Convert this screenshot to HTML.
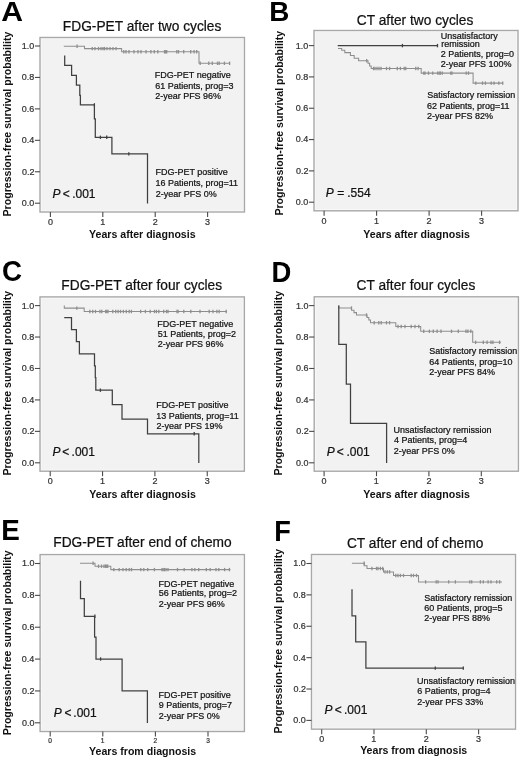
<!DOCTYPE html>
<html><head><meta charset="utf-8"><style>
html,body{margin:0;padding:0;background:#fff;}
svg{display:block;will-change:transform;}
text{font-family:"Liberation Sans",sans-serif;}
</style></head><body>
<svg width="520" height="759" viewBox="0 0 520 759">
<rect width="520" height="759" fill="#fff"/>
<rect x="40.00" y="37.50" width="204.45" height="174.50" fill="#fbfbfb" stroke="#a8a8a8" stroke-width="1.4"/>
<rect x="41.50" y="39.00" width="201.45" height="171.50" fill="#f2f2f2"/>
<line x1="34.90" y1="203.20" x2="40.00" y2="203.20" stroke="#4a4a4a" stroke-width="1.1"/>
<text transform="translate(21.83,206.10) scale(1,1.05)" font-size="9.0" stroke="#333" stroke-width="0.22" fill="#333">0.0</text>
<line x1="34.90" y1="171.76" x2="40.00" y2="171.76" stroke="#4a4a4a" stroke-width="1.1"/>
<text transform="translate(21.94,174.66) scale(1,1.05)" font-size="9.0" stroke="#333" stroke-width="0.22" fill="#333">0.2</text>
<line x1="34.90" y1="140.32" x2="40.00" y2="140.32" stroke="#4a4a4a" stroke-width="1.1"/>
<text transform="translate(21.74,143.22) scale(1,1.05)" font-size="9.0" stroke="#333" stroke-width="0.22" fill="#333">0.4</text>
<line x1="34.90" y1="108.88" x2="40.00" y2="108.88" stroke="#4a4a4a" stroke-width="1.1"/>
<text transform="translate(21.87,111.78) scale(1,1.05)" font-size="9.0" stroke="#333" stroke-width="0.22" fill="#333">0.6</text>
<line x1="34.90" y1="77.44" x2="40.00" y2="77.44" stroke="#4a4a4a" stroke-width="1.1"/>
<text transform="translate(21.87,80.34) scale(1,1.05)" font-size="9.0" stroke="#333" stroke-width="0.22" fill="#333">0.8</text>
<line x1="34.90" y1="46.00" x2="40.00" y2="46.00" stroke="#4a4a4a" stroke-width="1.1"/>
<text transform="translate(21.83,48.90) scale(1,1.05)" font-size="9.0" stroke="#333" stroke-width="0.22" fill="#333">1.0</text>
<line x1="50.40" y1="212.00" x2="50.40" y2="217.00" stroke="#4a4a4a" stroke-width="1.1"/>
<text transform="translate(47.90,225.20) scale(1,1.05)" font-size="9.0" stroke="#333" stroke-width="0.22" fill="#333">0</text>
<line x1="102.80" y1="212.00" x2="102.80" y2="217.00" stroke="#4a4a4a" stroke-width="1.1"/>
<text transform="translate(100.17,225.20) scale(1,1.05)" font-size="9.0" stroke="#333" stroke-width="0.22" fill="#333">1</text>
<line x1="155.20" y1="212.00" x2="155.20" y2="217.00" stroke="#4a4a4a" stroke-width="1.1"/>
<text transform="translate(152.70,225.20) scale(1,1.05)" font-size="9.0" stroke="#333" stroke-width="0.22" fill="#333">2</text>
<line x1="207.60" y1="212.00" x2="207.60" y2="217.00" stroke="#4a4a4a" stroke-width="1.1"/>
<text transform="translate(205.12,225.20) scale(1,1.05)" font-size="9.0" stroke="#333" stroke-width="0.22" fill="#333">3</text>
<path d="M63.8,46.2 H84.5 V48.6 H121.6 V51.8 H199 V63.3 H229.6" fill="none" stroke="#8e8e8e" stroke-width="1.05" stroke-linejoin="miter" stroke-linecap="butt"/>
<line x1="77.10" y1="44.50" x2="77.10" y2="47.90" stroke="#8e8e8e" stroke-width="1.3"/>
<line x1="92.30" y1="46.90" x2="92.30" y2="50.30" stroke="#8e8e8e" stroke-width="1.3"/>
<line x1="95.00" y1="46.90" x2="95.00" y2="50.30" stroke="#8e8e8e" stroke-width="1.3"/>
<line x1="98.50" y1="46.90" x2="98.50" y2="50.30" stroke="#8e8e8e" stroke-width="1.3"/>
<line x1="101.00" y1="46.90" x2="101.00" y2="50.30" stroke="#8e8e8e" stroke-width="1.3"/>
<line x1="103.00" y1="46.90" x2="103.00" y2="50.30" stroke="#8e8e8e" stroke-width="1.3"/>
<line x1="104.50" y1="46.90" x2="104.50" y2="50.30" stroke="#8e8e8e" stroke-width="1.3"/>
<line x1="107.00" y1="46.90" x2="107.00" y2="50.30" stroke="#8e8e8e" stroke-width="1.3"/>
<line x1="110.00" y1="46.90" x2="110.00" y2="50.30" stroke="#8e8e8e" stroke-width="1.3"/>
<line x1="113.00" y1="46.90" x2="113.00" y2="50.30" stroke="#8e8e8e" stroke-width="1.3"/>
<line x1="116.00" y1="46.90" x2="116.00" y2="50.30" stroke="#8e8e8e" stroke-width="1.3"/>
<line x1="123.80" y1="50.10" x2="123.80" y2="53.50" stroke="#8e8e8e" stroke-width="1.3"/>
<line x1="126.00" y1="50.10" x2="126.00" y2="53.50" stroke="#8e8e8e" stroke-width="1.3"/>
<line x1="129.00" y1="50.10" x2="129.00" y2="53.50" stroke="#8e8e8e" stroke-width="1.3"/>
<line x1="134.00" y1="50.10" x2="134.00" y2="53.50" stroke="#8e8e8e" stroke-width="1.3"/>
<line x1="138.00" y1="50.10" x2="138.00" y2="53.50" stroke="#8e8e8e" stroke-width="1.3"/>
<line x1="141.00" y1="50.10" x2="141.00" y2="53.50" stroke="#8e8e8e" stroke-width="1.3"/>
<line x1="146.00" y1="50.10" x2="146.00" y2="53.50" stroke="#8e8e8e" stroke-width="1.3"/>
<line x1="150.90" y1="50.10" x2="150.90" y2="53.50" stroke="#8e8e8e" stroke-width="1.3"/>
<line x1="154.30" y1="50.10" x2="154.30" y2="53.50" stroke="#8e8e8e" stroke-width="1.3"/>
<line x1="157.80" y1="50.10" x2="157.80" y2="53.50" stroke="#8e8e8e" stroke-width="1.3"/>
<line x1="164.50" y1="50.10" x2="164.50" y2="53.50" stroke="#8e8e8e" stroke-width="1.3"/>
<line x1="165.60" y1="50.10" x2="165.60" y2="53.50" stroke="#8e8e8e" stroke-width="1.3"/>
<line x1="166.70" y1="50.10" x2="166.70" y2="53.50" stroke="#8e8e8e" stroke-width="1.3"/>
<line x1="176.80" y1="50.10" x2="176.80" y2="53.50" stroke="#8e8e8e" stroke-width="1.3"/>
<line x1="178.50" y1="50.10" x2="178.50" y2="53.50" stroke="#8e8e8e" stroke-width="1.3"/>
<line x1="183.70" y1="50.10" x2="183.70" y2="53.50" stroke="#8e8e8e" stroke-width="1.3"/>
<line x1="190.70" y1="50.10" x2="190.70" y2="53.50" stroke="#8e8e8e" stroke-width="1.3"/>
<line x1="194.10" y1="50.10" x2="194.10" y2="53.50" stroke="#8e8e8e" stroke-width="1.3"/>
<line x1="196.70" y1="50.10" x2="196.70" y2="53.50" stroke="#8e8e8e" stroke-width="1.3"/>
<line x1="200.20" y1="61.60" x2="200.20" y2="65.00" stroke="#8e8e8e" stroke-width="1.3"/>
<line x1="208.80" y1="61.60" x2="208.80" y2="65.00" stroke="#8e8e8e" stroke-width="1.3"/>
<line x1="212.30" y1="61.60" x2="212.30" y2="65.00" stroke="#8e8e8e" stroke-width="1.3"/>
<line x1="217.50" y1="61.60" x2="217.50" y2="65.00" stroke="#8e8e8e" stroke-width="1.3"/>
<line x1="219.20" y1="61.60" x2="219.20" y2="65.00" stroke="#8e8e8e" stroke-width="1.3"/>
<line x1="224.40" y1="61.60" x2="224.40" y2="65.00" stroke="#8e8e8e" stroke-width="1.3"/>
<line x1="229.60" y1="61.60" x2="229.60" y2="65.00" stroke="#8e8e8e" stroke-width="1.3"/>
<path d="M64.7,55.5 V65.4 H71.6 V75.3 H76.4 V85.2 H79.8 V95.3 H80.4 V104.9 H94.4 V118.8 H95.3 V137.3 H111.9 V153.9 H147.5 V203.4" fill="none" stroke="#404040" stroke-width="1.25" stroke-linejoin="miter" stroke-linecap="butt"/>
<line x1="94.40" y1="103.20" x2="94.40" y2="106.60" stroke="#404040" stroke-width="1.3"/>
<line x1="100.40" y1="135.60" x2="100.40" y2="139.00" stroke="#404040" stroke-width="1.3"/>
<line x1="106.70" y1="135.60" x2="106.70" y2="139.00" stroke="#404040" stroke-width="1.3"/>
<line x1="128.80" y1="152.20" x2="128.80" y2="155.60" stroke="#404040" stroke-width="1.3"/>
<text transform="translate(154.86,78.20) scale(1,1.05)" font-size="9.0" stroke="#111" stroke-width="0.22" fill="#111">FDG-PET negative</text>
<text transform="translate(155.15,88.70) scale(1,1.05)" font-size="9.0" stroke="#111" stroke-width="0.22" fill="#111">61 Patients, prog=3</text>
<text transform="translate(155.15,99.20) scale(1,1.05)" font-size="9.0" stroke="#111" stroke-width="0.22" fill="#111">2-year PFS 96%</text>
<text transform="translate(155.46,175.40) scale(1,1.05)" font-size="9.0" stroke="#111" stroke-width="0.22" fill="#111">FDG-PET positive</text>
<text transform="translate(155.52,186.00) scale(1,1.05)" font-size="9.0" stroke="#111" stroke-width="0.22" fill="#111">16 Patients, prog=11</text>
<text transform="translate(155.75,196.50) scale(1,1.05)" font-size="9.0" stroke="#111" stroke-width="0.22" fill="#111">2-year PFS 0%</text>
<text transform="translate(62.87,30.70) scale(1,1.05)" font-size="13.75" stroke="#111" stroke-width="0.22" fill="#111">FDG-PET after two cycles</text>
<text transform="translate(52.44,197.90) scale(1,1.05)" font-size="12" stroke="#111" stroke-width="0.22" font-style="italic" fill="#111">P</text>
<text transform="translate(62.87,197.90) scale(1,1.05)" font-size="12" stroke="#111" stroke-width="0.22" fill="#111">&lt;</text>
<text transform="translate(72.18,197.90) scale(1,1.05)" font-size="12" stroke="#111" stroke-width="0.22" fill="#111">.001</text>
<text transform="translate(89.03,238.20) scale(1,1.05)" font-size="10.6" font-weight="bold" fill="#111">Years after diagnosis</text>
<text transform="translate(10.70,216.50) rotate(-90) scale(1,1.05)" x="0" y="0" font-size="10.6" font-weight="bold" fill="#111">Progression-free survival probability</text>
<text transform="translate(1.28,21.20) scale(1.08,1.0)" font-size="27.9" font-weight="bold" fill="#000">A</text>
<rect x="314.00" y="30.50" width="204.00" height="180.30" fill="#fbfbfb" stroke="#a8a8a8" stroke-width="1.4"/>
<rect x="315.50" y="32.00" width="201.00" height="177.30" fill="#f2f2f2"/>
<line x1="308.90" y1="202.20" x2="314.00" y2="202.20" stroke="#4a4a4a" stroke-width="1.1"/>
<text transform="translate(295.83,205.10) scale(1,1.05)" font-size="9.0" stroke="#333" stroke-width="0.22" fill="#333">0.0</text>
<line x1="308.90" y1="170.88" x2="314.00" y2="170.88" stroke="#4a4a4a" stroke-width="1.1"/>
<text transform="translate(295.94,173.78) scale(1,1.05)" font-size="9.0" stroke="#333" stroke-width="0.22" fill="#333">0.2</text>
<line x1="308.90" y1="139.56" x2="314.00" y2="139.56" stroke="#4a4a4a" stroke-width="1.1"/>
<text transform="translate(295.74,142.46) scale(1,1.05)" font-size="9.0" stroke="#333" stroke-width="0.22" fill="#333">0.4</text>
<line x1="308.90" y1="108.24" x2="314.00" y2="108.24" stroke="#4a4a4a" stroke-width="1.1"/>
<text transform="translate(295.87,111.14) scale(1,1.05)" font-size="9.0" stroke="#333" stroke-width="0.22" fill="#333">0.6</text>
<line x1="308.90" y1="76.92" x2="314.00" y2="76.92" stroke="#4a4a4a" stroke-width="1.1"/>
<text transform="translate(295.87,79.82) scale(1,1.05)" font-size="9.0" stroke="#333" stroke-width="0.22" fill="#333">0.8</text>
<line x1="308.90" y1="45.60" x2="314.00" y2="45.60" stroke="#4a4a4a" stroke-width="1.1"/>
<text transform="translate(295.83,48.50) scale(1,1.05)" font-size="9.0" stroke="#333" stroke-width="0.22" fill="#333">1.0</text>
<line x1="324.10" y1="210.80" x2="324.10" y2="215.80" stroke="#4a4a4a" stroke-width="1.1"/>
<text transform="translate(321.60,224.00) scale(1,1.05)" font-size="9.0" stroke="#333" stroke-width="0.22" fill="#333">0</text>
<line x1="376.60" y1="210.80" x2="376.60" y2="215.80" stroke="#4a4a4a" stroke-width="1.1"/>
<text transform="translate(373.97,224.00) scale(1,1.05)" font-size="9.0" stroke="#333" stroke-width="0.22" fill="#333">1</text>
<line x1="429.10" y1="210.80" x2="429.10" y2="215.80" stroke="#4a4a4a" stroke-width="1.1"/>
<text transform="translate(426.60,224.00) scale(1,1.05)" font-size="9.0" stroke="#333" stroke-width="0.22" fill="#333">2</text>
<line x1="481.60" y1="210.80" x2="481.60" y2="215.80" stroke="#4a4a4a" stroke-width="1.1"/>
<text transform="translate(479.12,224.00) scale(1,1.05)" font-size="9.0" stroke="#333" stroke-width="0.22" fill="#333">3</text>
<path d="M338,48.5 H341.7 V50.2 H344.8 V52.6 H350.4 V55.4 H354.2 V58.2 H358.6 V60.8 H368 V63.3 H369.6 V65.9 H371.2 V68.5 H421.2 V73.1 H473.1 V83.1 H503.1" fill="none" stroke="#8e8e8e" stroke-width="1.05" stroke-linejoin="miter" stroke-linecap="butt"/>
<line x1="366.70" y1="59.10" x2="366.70" y2="62.50" stroke="#8e8e8e" stroke-width="1.3"/>
<line x1="373.50" y1="66.80" x2="373.50" y2="70.20" stroke="#8e8e8e" stroke-width="1.3"/>
<line x1="375.00" y1="66.80" x2="375.00" y2="70.20" stroke="#8e8e8e" stroke-width="1.3"/>
<line x1="377.00" y1="66.80" x2="377.00" y2="70.20" stroke="#8e8e8e" stroke-width="1.3"/>
<line x1="379.00" y1="66.80" x2="379.00" y2="70.20" stroke="#8e8e8e" stroke-width="1.3"/>
<line x1="381.00" y1="66.80" x2="381.00" y2="70.20" stroke="#8e8e8e" stroke-width="1.3"/>
<line x1="386.50" y1="66.80" x2="386.50" y2="70.20" stroke="#8e8e8e" stroke-width="1.3"/>
<line x1="389.60" y1="66.80" x2="389.60" y2="70.20" stroke="#8e8e8e" stroke-width="1.3"/>
<line x1="397.30" y1="66.80" x2="397.30" y2="70.20" stroke="#8e8e8e" stroke-width="1.3"/>
<line x1="400.40" y1="66.80" x2="400.40" y2="70.20" stroke="#8e8e8e" stroke-width="1.3"/>
<line x1="404.20" y1="66.80" x2="404.20" y2="70.20" stroke="#8e8e8e" stroke-width="1.3"/>
<line x1="405.80" y1="66.80" x2="405.80" y2="70.20" stroke="#8e8e8e" stroke-width="1.3"/>
<line x1="415.80" y1="66.80" x2="415.80" y2="70.20" stroke="#8e8e8e" stroke-width="1.3"/>
<line x1="418.10" y1="66.80" x2="418.10" y2="70.20" stroke="#8e8e8e" stroke-width="1.3"/>
<line x1="423.80" y1="71.40" x2="423.80" y2="74.80" stroke="#8e8e8e" stroke-width="1.3"/>
<line x1="425.00" y1="71.40" x2="425.00" y2="74.80" stroke="#8e8e8e" stroke-width="1.3"/>
<line x1="428.50" y1="71.40" x2="428.50" y2="74.80" stroke="#8e8e8e" stroke-width="1.3"/>
<line x1="432.70" y1="71.40" x2="432.70" y2="74.80" stroke="#8e8e8e" stroke-width="1.3"/>
<line x1="437.70" y1="71.40" x2="437.70" y2="74.80" stroke="#8e8e8e" stroke-width="1.3"/>
<line x1="439.20" y1="71.40" x2="439.20" y2="74.80" stroke="#8e8e8e" stroke-width="1.3"/>
<line x1="440.40" y1="71.40" x2="440.40" y2="74.80" stroke="#8e8e8e" stroke-width="1.3"/>
<line x1="442.30" y1="71.40" x2="442.30" y2="74.80" stroke="#8e8e8e" stroke-width="1.3"/>
<line x1="450.80" y1="71.40" x2="450.80" y2="74.80" stroke="#8e8e8e" stroke-width="1.3"/>
<line x1="452.00" y1="71.40" x2="452.00" y2="74.80" stroke="#8e8e8e" stroke-width="1.3"/>
<line x1="466.20" y1="71.40" x2="466.20" y2="74.80" stroke="#8e8e8e" stroke-width="1.3"/>
<line x1="468.50" y1="71.40" x2="468.50" y2="74.80" stroke="#8e8e8e" stroke-width="1.3"/>
<line x1="475.80" y1="81.40" x2="475.80" y2="84.80" stroke="#8e8e8e" stroke-width="1.3"/>
<line x1="482.50" y1="81.40" x2="482.50" y2="84.80" stroke="#8e8e8e" stroke-width="1.3"/>
<line x1="485.40" y1="81.40" x2="485.40" y2="84.80" stroke="#8e8e8e" stroke-width="1.3"/>
<line x1="491.20" y1="81.40" x2="491.20" y2="84.80" stroke="#8e8e8e" stroke-width="1.3"/>
<line x1="494.00" y1="81.40" x2="494.00" y2="84.80" stroke="#8e8e8e" stroke-width="1.3"/>
<line x1="498.80" y1="81.40" x2="498.80" y2="84.80" stroke="#8e8e8e" stroke-width="1.3"/>
<line x1="502.70" y1="81.40" x2="502.70" y2="84.80" stroke="#8e8e8e" stroke-width="1.3"/>
<path d="M337.7,45.6 H437.5" fill="none" stroke="#404040" stroke-width="1.25" stroke-linejoin="miter" stroke-linecap="butt"/>
<line x1="402.40" y1="43.90" x2="402.40" y2="47.30" stroke="#404040" stroke-width="1.3"/>
<line x1="437.50" y1="43.90" x2="437.50" y2="47.30" stroke="#404040" stroke-width="1.3"/>
<text transform="translate(440.82,38.80) scale(1,1.05)" font-size="9.0" stroke="#111" stroke-width="0.22" fill="#111">Unsatisfactory</text>
<text transform="translate(441.21,46.90) scale(1,1.05)" font-size="9.0" stroke="#111" stroke-width="0.22" fill="#111">remission</text>
<text transform="translate(440.65,57.00) scale(1,1.05)" font-size="9.0" stroke="#111" stroke-width="0.22" fill="#111">2 Patients, prog=0</text>
<text transform="translate(440.65,66.50) scale(1,1.05)" font-size="9.0" stroke="#111" stroke-width="0.22" fill="#111">2-year PFS 100%</text>
<text transform="translate(427.30,98.00) scale(1,1.05)" font-size="9.0" stroke="#111" stroke-width="0.22" fill="#111">Satisfactory remission</text>
<text transform="translate(427.05,108.60) scale(1,1.05)" font-size="9.0" stroke="#111" stroke-width="0.22" fill="#111">62 Patients, prog=11</text>
<text transform="translate(427.05,119.40) scale(1,1.05)" font-size="9.0" stroke="#111" stroke-width="0.22" fill="#111">2-year PFS 82%</text>
<text transform="translate(356.81,25.00) scale(1,1.05)" font-size="13.75" stroke="#111" stroke-width="0.22" fill="#111">CT after two cycles</text>
<text transform="translate(325.64,196.70) scale(1,1.05)" font-size="12" stroke="#111" stroke-width="0.22" font-style="italic" fill="#111">P</text>
<text transform="translate(337.32,196.70) scale(1,1.05)" font-size="12" stroke="#111" stroke-width="0.22" fill="#111">=</text>
<text transform="translate(347.22,196.70) scale(1,1.05)" font-size="12" stroke="#111" stroke-width="0.22" fill="#111">.554</text>
<text transform="translate(363.33,237.70) scale(1,1.05)" font-size="10.6" font-weight="bold" fill="#111">Years after diagnosis</text>
<text transform="translate(282.70,215.60) rotate(-90) scale(1,1.05)" x="0" y="0" font-size="10.6" font-weight="bold" fill="#111">Progression-free survival probability</text>
<text transform="translate(269.16,21.25) scale(1.01,1.0)" font-size="27.6" font-weight="bold" fill="#000">B</text>
<rect x="40.00" y="296.90" width="204.35" height="174.30" fill="#fbfbfb" stroke="#a8a8a8" stroke-width="1.4"/>
<rect x="41.50" y="298.40" width="201.35" height="171.30" fill="#f2f2f2"/>
<line x1="34.90" y1="462.80" x2="40.00" y2="462.80" stroke="#4a4a4a" stroke-width="1.1"/>
<text transform="translate(21.83,465.70) scale(1,1.05)" font-size="9.0" stroke="#333" stroke-width="0.22" fill="#333">0.0</text>
<line x1="34.90" y1="431.36" x2="40.00" y2="431.36" stroke="#4a4a4a" stroke-width="1.1"/>
<text transform="translate(21.94,434.26) scale(1,1.05)" font-size="9.0" stroke="#333" stroke-width="0.22" fill="#333">0.2</text>
<line x1="34.90" y1="399.92" x2="40.00" y2="399.92" stroke="#4a4a4a" stroke-width="1.1"/>
<text transform="translate(21.74,402.82) scale(1,1.05)" font-size="9.0" stroke="#333" stroke-width="0.22" fill="#333">0.4</text>
<line x1="34.90" y1="368.48" x2="40.00" y2="368.48" stroke="#4a4a4a" stroke-width="1.1"/>
<text transform="translate(21.87,371.38) scale(1,1.05)" font-size="9.0" stroke="#333" stroke-width="0.22" fill="#333">0.6</text>
<line x1="34.90" y1="337.04" x2="40.00" y2="337.04" stroke="#4a4a4a" stroke-width="1.1"/>
<text transform="translate(21.87,339.94) scale(1,1.05)" font-size="9.0" stroke="#333" stroke-width="0.22" fill="#333">0.8</text>
<line x1="34.90" y1="305.60" x2="40.00" y2="305.60" stroke="#4a4a4a" stroke-width="1.1"/>
<text transform="translate(21.83,308.50) scale(1,1.05)" font-size="9.0" stroke="#333" stroke-width="0.22" fill="#333">1.0</text>
<line x1="50.20" y1="471.20" x2="50.20" y2="476.20" stroke="#4a4a4a" stroke-width="1.1"/>
<text transform="translate(47.70,484.40) scale(1,1.05)" font-size="9.0" stroke="#333" stroke-width="0.22" fill="#333">0</text>
<line x1="102.55" y1="471.20" x2="102.55" y2="476.20" stroke="#4a4a4a" stroke-width="1.1"/>
<text transform="translate(99.92,484.40) scale(1,1.05)" font-size="9.0" stroke="#333" stroke-width="0.22" fill="#333">1</text>
<line x1="154.90" y1="471.20" x2="154.90" y2="476.20" stroke="#4a4a4a" stroke-width="1.1"/>
<text transform="translate(152.40,484.40) scale(1,1.05)" font-size="9.0" stroke="#333" stroke-width="0.22" fill="#333">2</text>
<line x1="207.25" y1="471.20" x2="207.25" y2="476.20" stroke="#4a4a4a" stroke-width="1.1"/>
<text transform="translate(204.77,484.40) scale(1,1.05)" font-size="9.0" stroke="#333" stroke-width="0.22" fill="#333">3</text>
<path d="M64.3,305.4 V308.1 H84.2 V311.5 H226.9" fill="none" stroke="#8e8e8e" stroke-width="1.05" stroke-linejoin="miter" stroke-linecap="butt"/>
<line x1="76.80" y1="306.40" x2="76.80" y2="309.80" stroke="#8e8e8e" stroke-width="1.3"/>
<line x1="89.80" y1="309.80" x2="89.80" y2="313.20" stroke="#8e8e8e" stroke-width="1.3"/>
<line x1="92.70" y1="309.80" x2="92.70" y2="313.20" stroke="#8e8e8e" stroke-width="1.3"/>
<line x1="95.50" y1="309.80" x2="95.50" y2="313.20" stroke="#8e8e8e" stroke-width="1.3"/>
<line x1="99.90" y1="309.80" x2="99.90" y2="313.20" stroke="#8e8e8e" stroke-width="1.3"/>
<line x1="101.80" y1="309.80" x2="101.80" y2="313.20" stroke="#8e8e8e" stroke-width="1.3"/>
<line x1="105.60" y1="309.80" x2="105.60" y2="313.20" stroke="#8e8e8e" stroke-width="1.3"/>
<line x1="106.80" y1="309.80" x2="106.80" y2="313.20" stroke="#8e8e8e" stroke-width="1.3"/>
<line x1="108.00" y1="309.80" x2="108.00" y2="313.20" stroke="#8e8e8e" stroke-width="1.3"/>
<line x1="112.80" y1="309.80" x2="112.80" y2="313.20" stroke="#8e8e8e" stroke-width="1.3"/>
<line x1="115.70" y1="309.80" x2="115.70" y2="313.20" stroke="#8e8e8e" stroke-width="1.3"/>
<line x1="118.10" y1="309.80" x2="118.10" y2="313.20" stroke="#8e8e8e" stroke-width="1.3"/>
<line x1="120.50" y1="309.80" x2="120.50" y2="313.20" stroke="#8e8e8e" stroke-width="1.3"/>
<line x1="123.40" y1="309.80" x2="123.40" y2="313.20" stroke="#8e8e8e" stroke-width="1.3"/>
<line x1="126.30" y1="309.80" x2="126.30" y2="313.20" stroke="#8e8e8e" stroke-width="1.3"/>
<line x1="129.20" y1="309.80" x2="129.20" y2="313.20" stroke="#8e8e8e" stroke-width="1.3"/>
<line x1="131.40" y1="309.80" x2="131.40" y2="313.20" stroke="#8e8e8e" stroke-width="1.3"/>
<line x1="140.60" y1="309.80" x2="140.60" y2="313.20" stroke="#8e8e8e" stroke-width="1.3"/>
<line x1="145.40" y1="309.80" x2="145.40" y2="313.20" stroke="#8e8e8e" stroke-width="1.3"/>
<line x1="150.20" y1="309.80" x2="150.20" y2="313.20" stroke="#8e8e8e" stroke-width="1.3"/>
<line x1="154.50" y1="309.80" x2="154.50" y2="313.20" stroke="#8e8e8e" stroke-width="1.3"/>
<line x1="156.40" y1="309.80" x2="156.40" y2="313.20" stroke="#8e8e8e" stroke-width="1.3"/>
<line x1="158.80" y1="309.80" x2="158.80" y2="313.20" stroke="#8e8e8e" stroke-width="1.3"/>
<line x1="163.70" y1="309.80" x2="163.70" y2="313.20" stroke="#8e8e8e" stroke-width="1.3"/>
<line x1="166.50" y1="309.80" x2="166.50" y2="313.20" stroke="#8e8e8e" stroke-width="1.3"/>
<line x1="168.00" y1="309.80" x2="168.00" y2="313.20" stroke="#8e8e8e" stroke-width="1.3"/>
<line x1="177.00" y1="309.80" x2="177.00" y2="313.20" stroke="#8e8e8e" stroke-width="1.3"/>
<line x1="178.10" y1="309.80" x2="178.10" y2="313.20" stroke="#8e8e8e" stroke-width="1.3"/>
<line x1="183.80" y1="309.80" x2="183.80" y2="313.20" stroke="#8e8e8e" stroke-width="1.3"/>
<line x1="190.80" y1="309.80" x2="190.80" y2="313.20" stroke="#8e8e8e" stroke-width="1.3"/>
<line x1="200.00" y1="309.80" x2="200.00" y2="313.20" stroke="#8e8e8e" stroke-width="1.3"/>
<line x1="209.20" y1="309.80" x2="209.20" y2="313.20" stroke="#8e8e8e" stroke-width="1.3"/>
<line x1="213.00" y1="309.80" x2="213.00" y2="313.20" stroke="#8e8e8e" stroke-width="1.3"/>
<line x1="216.90" y1="309.80" x2="216.90" y2="313.20" stroke="#8e8e8e" stroke-width="1.3"/>
<line x1="219.20" y1="309.80" x2="219.20" y2="313.20" stroke="#8e8e8e" stroke-width="1.3"/>
<line x1="226.20" y1="309.80" x2="226.20" y2="313.20" stroke="#8e8e8e" stroke-width="1.3"/>
<path d="M64.2,317.5 H71.5 V329.5 H76.4 V341.6 H79.4 V353.8 H94.5 V365.8 H95.3 V377.7 H95.8 V390.2 H112.3 V404.6 H122.0 V419 H147.5 V433.8 H198.8 V462.9" fill="none" stroke="#404040" stroke-width="1.25" stroke-linejoin="miter" stroke-linecap="butt"/>
<line x1="100.40" y1="388.50" x2="100.40" y2="391.90" stroke="#404040" stroke-width="1.3"/>
<line x1="194.20" y1="432.10" x2="194.20" y2="435.50" stroke="#404040" stroke-width="1.3"/>
<text transform="translate(157.36,326.90) scale(1,1.05)" font-size="9.0" stroke="#111" stroke-width="0.22" fill="#111">FDG-PET negative</text>
<text transform="translate(157.74,336.70) scale(1,1.05)" font-size="9.0" stroke="#111" stroke-width="0.22" fill="#111">51 Patients, prog=2</text>
<text transform="translate(157.65,346.70) scale(1,1.05)" font-size="9.0" stroke="#111" stroke-width="0.22" fill="#111">2-year PFS 96%</text>
<text transform="translate(156.16,408.30) scale(1,1.05)" font-size="9.0" stroke="#111" stroke-width="0.22" fill="#111">FDG-PET positive</text>
<text transform="translate(156.22,418.50) scale(1,1.05)" font-size="9.0" stroke="#111" stroke-width="0.22" fill="#111">13 Patients, prog=11</text>
<text transform="translate(156.45,428.60) scale(1,1.05)" font-size="9.0" stroke="#111" stroke-width="0.22" fill="#111">2-year PFS 19%</text>
<text transform="translate(61.37,290.20) scale(1,1.05)" font-size="13.75" stroke="#111" stroke-width="0.22" fill="#111">FDG-PET after four cycles</text>
<text transform="translate(52.44,455.60) scale(1,1.05)" font-size="12" stroke="#111" stroke-width="0.22" font-style="italic" fill="#111">P</text>
<text transform="translate(62.32,455.60) scale(1,1.05)" font-size="12" stroke="#111" stroke-width="0.22" fill="#111">&lt;</text>
<text transform="translate(71.62,455.60) scale(1,1.05)" font-size="12" stroke="#111" stroke-width="0.22" fill="#111">.001</text>
<text transform="translate(89.23,497.80) scale(1,1.05)" font-size="10.6" font-weight="bold" fill="#111">Years after diagnosis</text>
<text transform="translate(10.70,475.60) rotate(-90) scale(1,1.05)" x="0" y="0" font-size="10.6" font-weight="bold" fill="#111">Progression-free survival probability</text>
<text transform="translate(1.99,280.60) scale(0.97,1.03)" font-size="28.6" font-weight="bold" fill="#000">C</text>
<rect x="314.20" y="296.80" width="204.20" height="174.40" fill="#fbfbfb" stroke="#a8a8a8" stroke-width="1.4"/>
<rect x="315.70" y="298.30" width="201.20" height="171.40" fill="#f2f2f2"/>
<line x1="309.10" y1="462.80" x2="314.20" y2="462.80" stroke="#4a4a4a" stroke-width="1.1"/>
<text transform="translate(296.03,465.70) scale(1,1.05)" font-size="9.0" stroke="#333" stroke-width="0.22" fill="#333">0.0</text>
<line x1="309.10" y1="431.36" x2="314.20" y2="431.36" stroke="#4a4a4a" stroke-width="1.1"/>
<text transform="translate(296.14,434.26) scale(1,1.05)" font-size="9.0" stroke="#333" stroke-width="0.22" fill="#333">0.2</text>
<line x1="309.10" y1="399.92" x2="314.20" y2="399.92" stroke="#4a4a4a" stroke-width="1.1"/>
<text transform="translate(295.94,402.82) scale(1,1.05)" font-size="9.0" stroke="#333" stroke-width="0.22" fill="#333">0.4</text>
<line x1="309.10" y1="368.48" x2="314.20" y2="368.48" stroke="#4a4a4a" stroke-width="1.1"/>
<text transform="translate(296.07,371.38) scale(1,1.05)" font-size="9.0" stroke="#333" stroke-width="0.22" fill="#333">0.6</text>
<line x1="309.10" y1="337.04" x2="314.20" y2="337.04" stroke="#4a4a4a" stroke-width="1.1"/>
<text transform="translate(296.07,339.94) scale(1,1.05)" font-size="9.0" stroke="#333" stroke-width="0.22" fill="#333">0.8</text>
<line x1="309.10" y1="305.60" x2="314.20" y2="305.60" stroke="#4a4a4a" stroke-width="1.1"/>
<text transform="translate(296.03,308.50) scale(1,1.05)" font-size="9.0" stroke="#333" stroke-width="0.22" fill="#333">1.0</text>
<line x1="324.10" y1="471.20" x2="324.10" y2="476.20" stroke="#4a4a4a" stroke-width="1.1"/>
<text transform="translate(321.60,484.40) scale(1,1.05)" font-size="9.0" stroke="#333" stroke-width="0.22" fill="#333">0</text>
<line x1="376.50" y1="471.20" x2="376.50" y2="476.20" stroke="#4a4a4a" stroke-width="1.1"/>
<text transform="translate(373.87,484.40) scale(1,1.05)" font-size="9.0" stroke="#333" stroke-width="0.22" fill="#333">1</text>
<line x1="428.90" y1="471.20" x2="428.90" y2="476.20" stroke="#4a4a4a" stroke-width="1.1"/>
<text transform="translate(426.40,484.40) scale(1,1.05)" font-size="9.0" stroke="#333" stroke-width="0.22" fill="#333">2</text>
<line x1="481.30" y1="471.20" x2="481.30" y2="476.20" stroke="#4a4a4a" stroke-width="1.1"/>
<text transform="translate(478.82,484.40) scale(1,1.05)" font-size="9.0" stroke="#333" stroke-width="0.22" fill="#333">3</text>
<path d="M338.8,305.6 V308.0 H351.5 V310.3 H354.0 V312.6 H356.5 V315.0 H367 V317.5 H368.8 V320.0 H370.5 V322.7 H395.8 V326.5 H420.7 V331.3 H472.7 V342.3 H500.8" fill="none" stroke="#8e8e8e" stroke-width="1.05" stroke-linejoin="miter" stroke-linecap="butt"/>
<line x1="351.50" y1="306.30" x2="351.50" y2="309.70" stroke="#8e8e8e" stroke-width="1.3"/>
<line x1="366.50" y1="313.30" x2="366.50" y2="316.70" stroke="#8e8e8e" stroke-width="1.3"/>
<line x1="374.20" y1="321.00" x2="374.20" y2="324.40" stroke="#8e8e8e" stroke-width="1.3"/>
<line x1="378.80" y1="321.00" x2="378.80" y2="324.40" stroke="#8e8e8e" stroke-width="1.3"/>
<line x1="381.20" y1="321.00" x2="381.20" y2="324.40" stroke="#8e8e8e" stroke-width="1.3"/>
<line x1="386.50" y1="321.00" x2="386.50" y2="324.40" stroke="#8e8e8e" stroke-width="1.3"/>
<line x1="389.60" y1="321.00" x2="389.60" y2="324.40" stroke="#8e8e8e" stroke-width="1.3"/>
<line x1="398.00" y1="324.80" x2="398.00" y2="328.20" stroke="#8e8e8e" stroke-width="1.3"/>
<line x1="401.20" y1="324.80" x2="401.20" y2="328.20" stroke="#8e8e8e" stroke-width="1.3"/>
<line x1="405.00" y1="324.80" x2="405.00" y2="328.20" stroke="#8e8e8e" stroke-width="1.3"/>
<line x1="411.20" y1="324.80" x2="411.20" y2="328.20" stroke="#8e8e8e" stroke-width="1.3"/>
<line x1="415.00" y1="324.80" x2="415.00" y2="328.20" stroke="#8e8e8e" stroke-width="1.3"/>
<line x1="418.80" y1="324.80" x2="418.80" y2="328.20" stroke="#8e8e8e" stroke-width="1.3"/>
<line x1="423.70" y1="329.60" x2="423.70" y2="333.00" stroke="#8e8e8e" stroke-width="1.3"/>
<line x1="429.40" y1="329.60" x2="429.40" y2="333.00" stroke="#8e8e8e" stroke-width="1.3"/>
<line x1="433.30" y1="329.60" x2="433.30" y2="333.00" stroke="#8e8e8e" stroke-width="1.3"/>
<line x1="437.10" y1="329.60" x2="437.10" y2="333.00" stroke="#8e8e8e" stroke-width="1.3"/>
<line x1="441.00" y1="329.60" x2="441.00" y2="333.00" stroke="#8e8e8e" stroke-width="1.3"/>
<line x1="451.50" y1="329.60" x2="451.50" y2="333.00" stroke="#8e8e8e" stroke-width="1.3"/>
<line x1="458.30" y1="329.60" x2="458.30" y2="333.00" stroke="#8e8e8e" stroke-width="1.3"/>
<line x1="466.00" y1="329.60" x2="466.00" y2="333.00" stroke="#8e8e8e" stroke-width="1.3"/>
<line x1="467.90" y1="329.60" x2="467.90" y2="333.00" stroke="#8e8e8e" stroke-width="1.3"/>
<line x1="470.80" y1="329.60" x2="470.80" y2="333.00" stroke="#8e8e8e" stroke-width="1.3"/>
<line x1="475.60" y1="340.60" x2="475.60" y2="344.00" stroke="#8e8e8e" stroke-width="1.3"/>
<line x1="483.30" y1="340.60" x2="483.30" y2="344.00" stroke="#8e8e8e" stroke-width="1.3"/>
<line x1="487.10" y1="340.60" x2="487.10" y2="344.00" stroke="#8e8e8e" stroke-width="1.3"/>
<line x1="491.00" y1="340.60" x2="491.00" y2="344.00" stroke="#8e8e8e" stroke-width="1.3"/>
<line x1="492.90" y1="340.60" x2="492.90" y2="344.00" stroke="#8e8e8e" stroke-width="1.3"/>
<line x1="499.60" y1="340.60" x2="499.60" y2="344.00" stroke="#8e8e8e" stroke-width="1.3"/>
<path d="M338.8,305.4 V344.4 H346.3 V384.2 H350.5 V423.4 H386.6 V462.9" fill="none" stroke="#404040" stroke-width="1.25" stroke-linejoin="miter" stroke-linecap="butt"/>
<text transform="translate(429.20,354.40) scale(1,1.05)" font-size="9.0" stroke="#111" stroke-width="0.22" fill="#111">Satisfactory remission</text>
<text transform="translate(429.15,364.70) scale(1,1.05)" font-size="9.0" stroke="#111" stroke-width="0.22" fill="#111">64 Patients, prog=10</text>
<text transform="translate(429.15,375.20) scale(1,1.05)" font-size="9.0" stroke="#111" stroke-width="0.22" fill="#111">2-year PFS 84%</text>
<text transform="translate(393.52,433.30) scale(1,1.05)" font-size="9.0" stroke="#111" stroke-width="0.22" fill="#111">Unsatisfactory remission</text>
<text transform="translate(394.00,443.00) scale(1,1.05)" font-size="9.0" stroke="#111" stroke-width="0.22" fill="#111">4 Patients, prog=4</text>
<text transform="translate(393.75,453.50) scale(1,1.05)" font-size="9.0" stroke="#111" stroke-width="0.22" fill="#111">2-year PFS 0%</text>
<text transform="translate(356.51,290.30) scale(1,1.05)" font-size="13.75" stroke="#111" stroke-width="0.22" fill="#111">CT after four cycles</text>
<text transform="translate(326.84,455.80) scale(1,1.05)" font-size="12" stroke="#111" stroke-width="0.22" font-style="italic" fill="#111">P</text>
<text transform="translate(336.72,455.80) scale(1,1.05)" font-size="12" stroke="#111" stroke-width="0.22" fill="#111">&lt;</text>
<text transform="translate(346.42,455.80) scale(1,1.05)" font-size="12" stroke="#111" stroke-width="0.22" fill="#111">.001</text>
<text transform="translate(363.33,497.70) scale(1,1.05)" font-size="10.6" font-weight="bold" fill="#111">Years after diagnosis</text>
<text transform="translate(282.20,475.60) rotate(-90) scale(1,1.05)" x="0" y="0" font-size="10.6" font-weight="bold" fill="#111">Progression-free survival probability</text>
<text transform="translate(271.59,281.70) scale(0.96,1.0)" font-size="28.6" font-weight="bold" fill="#000">D</text>
<rect x="40.10" y="554.60" width="204.30" height="176.90" fill="#fbfbfb" stroke="#a8a8a8" stroke-width="1.4"/>
<rect x="41.60" y="556.10" width="201.30" height="173.90" fill="#f2f2f2"/>
<line x1="35.00" y1="722.80" x2="40.10" y2="722.80" stroke="#4a4a4a" stroke-width="1.1"/>
<text transform="translate(21.93,725.70) scale(1,1.05)" font-size="9.0" stroke="#333" stroke-width="0.22" fill="#333">0.0</text>
<line x1="35.00" y1="690.94" x2="40.10" y2="690.94" stroke="#4a4a4a" stroke-width="1.1"/>
<text transform="translate(22.04,693.84) scale(1,1.05)" font-size="9.0" stroke="#333" stroke-width="0.22" fill="#333">0.2</text>
<line x1="35.00" y1="659.08" x2="40.10" y2="659.08" stroke="#4a4a4a" stroke-width="1.1"/>
<text transform="translate(21.84,661.98) scale(1,1.05)" font-size="9.0" stroke="#333" stroke-width="0.22" fill="#333">0.4</text>
<line x1="35.00" y1="627.22" x2="40.10" y2="627.22" stroke="#4a4a4a" stroke-width="1.1"/>
<text transform="translate(21.97,630.12) scale(1,1.05)" font-size="9.0" stroke="#333" stroke-width="0.22" fill="#333">0.6</text>
<line x1="35.00" y1="595.36" x2="40.10" y2="595.36" stroke="#4a4a4a" stroke-width="1.1"/>
<text transform="translate(21.97,598.26) scale(1,1.05)" font-size="9.0" stroke="#333" stroke-width="0.22" fill="#333">0.8</text>
<line x1="35.00" y1="563.50" x2="40.10" y2="563.50" stroke="#4a4a4a" stroke-width="1.1"/>
<text transform="translate(21.93,566.40) scale(1,1.05)" font-size="9.0" stroke="#333" stroke-width="0.22" fill="#333">1.0</text>
<line x1="50.20" y1="731.50" x2="50.20" y2="736.50" stroke="#4a4a4a" stroke-width="1.1"/>
<text transform="translate(48.37,742.80) scale(1,1.05)" font-size="6.6" stroke="#333" stroke-width="0.22" fill="#333">0</text>
<line x1="102.80" y1="731.50" x2="102.80" y2="736.50" stroke="#4a4a4a" stroke-width="1.1"/>
<text transform="translate(100.87,742.80) scale(1,1.05)" font-size="6.6" stroke="#333" stroke-width="0.22" fill="#333">1</text>
<line x1="155.40" y1="731.50" x2="155.40" y2="736.50" stroke="#4a4a4a" stroke-width="1.1"/>
<text transform="translate(153.57,742.80) scale(1,1.05)" font-size="6.6" stroke="#333" stroke-width="0.22" fill="#333">2</text>
<line x1="208.00" y1="731.50" x2="208.00" y2="736.50" stroke="#4a4a4a" stroke-width="1.1"/>
<text transform="translate(206.18,742.80) scale(1,1.05)" font-size="6.6" stroke="#333" stroke-width="0.22" fill="#333">3</text>
<path d="M80,563.2 H95 V566.2 H110.8 V569.6 H230.4" fill="none" stroke="#8e8e8e" stroke-width="1.05" stroke-linejoin="miter" stroke-linecap="butt"/>
<line x1="93.10" y1="561.50" x2="93.10" y2="564.90" stroke="#8e8e8e" stroke-width="1.3"/>
<line x1="98.50" y1="564.50" x2="98.50" y2="567.90" stroke="#8e8e8e" stroke-width="1.3"/>
<line x1="101.50" y1="564.50" x2="101.50" y2="567.90" stroke="#8e8e8e" stroke-width="1.3"/>
<line x1="104.00" y1="564.50" x2="104.00" y2="567.90" stroke="#8e8e8e" stroke-width="1.3"/>
<line x1="105.40" y1="564.50" x2="105.40" y2="567.90" stroke="#8e8e8e" stroke-width="1.3"/>
<line x1="106.50" y1="564.50" x2="106.50" y2="567.90" stroke="#8e8e8e" stroke-width="1.3"/>
<line x1="107.70" y1="564.50" x2="107.70" y2="567.90" stroke="#8e8e8e" stroke-width="1.3"/>
<line x1="113.80" y1="567.90" x2="113.80" y2="571.30" stroke="#8e8e8e" stroke-width="1.3"/>
<line x1="119.20" y1="567.90" x2="119.20" y2="571.30" stroke="#8e8e8e" stroke-width="1.3"/>
<line x1="123.00" y1="567.90" x2="123.00" y2="571.30" stroke="#8e8e8e" stroke-width="1.3"/>
<line x1="126.20" y1="567.90" x2="126.20" y2="571.30" stroke="#8e8e8e" stroke-width="1.3"/>
<line x1="129.20" y1="567.90" x2="129.20" y2="571.30" stroke="#8e8e8e" stroke-width="1.3"/>
<line x1="131.50" y1="567.90" x2="131.50" y2="571.30" stroke="#8e8e8e" stroke-width="1.3"/>
<line x1="140.80" y1="567.90" x2="140.80" y2="571.30" stroke="#8e8e8e" stroke-width="1.3"/>
<line x1="143.80" y1="567.90" x2="143.80" y2="571.30" stroke="#8e8e8e" stroke-width="1.3"/>
<line x1="147.70" y1="567.90" x2="147.70" y2="571.30" stroke="#8e8e8e" stroke-width="1.3"/>
<line x1="154.40" y1="567.90" x2="154.40" y2="571.30" stroke="#8e8e8e" stroke-width="1.3"/>
<line x1="162.00" y1="567.90" x2="162.00" y2="571.30" stroke="#8e8e8e" stroke-width="1.3"/>
<line x1="163.10" y1="567.90" x2="163.10" y2="571.30" stroke="#8e8e8e" stroke-width="1.3"/>
<line x1="164.50" y1="567.90" x2="164.50" y2="571.30" stroke="#8e8e8e" stroke-width="1.3"/>
<line x1="166.00" y1="567.90" x2="166.00" y2="571.30" stroke="#8e8e8e" stroke-width="1.3"/>
<line x1="168.00" y1="567.90" x2="168.00" y2="571.30" stroke="#8e8e8e" stroke-width="1.3"/>
<line x1="177.50" y1="567.90" x2="177.50" y2="571.30" stroke="#8e8e8e" stroke-width="1.3"/>
<line x1="184.20" y1="567.90" x2="184.20" y2="571.30" stroke="#8e8e8e" stroke-width="1.3"/>
<line x1="191.90" y1="567.90" x2="191.90" y2="571.30" stroke="#8e8e8e" stroke-width="1.3"/>
<line x1="194.80" y1="567.90" x2="194.80" y2="571.30" stroke="#8e8e8e" stroke-width="1.3"/>
<line x1="198.70" y1="567.90" x2="198.70" y2="571.30" stroke="#8e8e8e" stroke-width="1.3"/>
<line x1="206.30" y1="567.90" x2="206.30" y2="571.30" stroke="#8e8e8e" stroke-width="1.3"/>
<line x1="210.20" y1="567.90" x2="210.20" y2="571.30" stroke="#8e8e8e" stroke-width="1.3"/>
<line x1="216.00" y1="567.90" x2="216.00" y2="571.30" stroke="#8e8e8e" stroke-width="1.3"/>
<line x1="218.80" y1="567.90" x2="218.80" y2="571.30" stroke="#8e8e8e" stroke-width="1.3"/>
<line x1="224.60" y1="567.90" x2="224.60" y2="571.30" stroke="#8e8e8e" stroke-width="1.3"/>
<line x1="229.40" y1="567.90" x2="229.40" y2="571.30" stroke="#8e8e8e" stroke-width="1.3"/>
<path d="M80.5,580.8 V598.7 H84.3 V616.3 H94.6 V637.2 H96.0 V659.1 H122.1 V690.8 H147.4 V722.9" fill="none" stroke="#404040" stroke-width="1.25" stroke-linejoin="miter" stroke-linecap="butt"/>
<line x1="94.90" y1="614.60" x2="94.90" y2="618.00" stroke="#404040" stroke-width="1.3"/>
<line x1="100.60" y1="657.30" x2="100.60" y2="660.70" stroke="#404040" stroke-width="1.3"/>
<text transform="translate(158.46,586.50) scale(1,1.05)" font-size="9.0" stroke="#111" stroke-width="0.22" fill="#111">FDG-PET negative</text>
<text transform="translate(158.84,596.40) scale(1,1.05)" font-size="9.0" stroke="#111" stroke-width="0.22" fill="#111">56 Patients, prog=2</text>
<text transform="translate(158.75,606.70) scale(1,1.05)" font-size="9.0" stroke="#111" stroke-width="0.22" fill="#111">2-year PFS 96%</text>
<text transform="translate(158.46,697.70) scale(1,1.05)" font-size="9.0" stroke="#111" stroke-width="0.22" fill="#111">FDG-PET positive</text>
<text transform="translate(158.79,707.90) scale(1,1.05)" font-size="9.0" stroke="#111" stroke-width="0.22" fill="#111">9 Patients, prog=7</text>
<text transform="translate(158.75,718.50) scale(1,1.05)" font-size="9.0" stroke="#111" stroke-width="0.22" fill="#111">2-year PFS 0%</text>
<text transform="translate(53.27,547.30) scale(1,1.05)" font-size="13.75" stroke="#111" stroke-width="0.22" fill="#111">FDG-PET after end of chemo</text>
<text transform="translate(53.64,717.30) scale(1,1.05)" font-size="12" stroke="#111" stroke-width="0.22" font-style="italic" fill="#111">P</text>
<text transform="translate(64.62,717.30) scale(1,1.05)" font-size="12" stroke="#111" stroke-width="0.22" fill="#111">&lt;</text>
<text transform="translate(73.32,717.30) scale(1,1.05)" font-size="12" stroke="#111" stroke-width="0.22" fill="#111">.001</text>
<text transform="translate(89.03,754.60) scale(1,1.05)" font-size="10.6" font-weight="bold" fill="#111">Years from diagnosis</text>
<text transform="translate(11.00,735.30) rotate(-90) scale(1,1.05)" x="0" y="0" font-size="10.6" font-weight="bold" fill="#111">Progression-free survival probability</text>
<text transform="translate(1.26,540.00) scale(0.96,1.0)" font-size="29.0" font-weight="bold" fill="#000">E</text>
<rect x="311.50" y="554.50" width="204.00" height="174.65" fill="#fbfbfb" stroke="#a8a8a8" stroke-width="1.4"/>
<rect x="313.00" y="556.00" width="201.00" height="171.65" fill="#f2f2f2"/>
<line x1="306.40" y1="720.40" x2="311.50" y2="720.40" stroke="#4a4a4a" stroke-width="1.1"/>
<text transform="translate(293.33,723.30) scale(1,1.05)" font-size="9.0" stroke="#333" stroke-width="0.22" fill="#333">0.0</text>
<line x1="306.40" y1="689.02" x2="311.50" y2="689.02" stroke="#4a4a4a" stroke-width="1.1"/>
<text transform="translate(293.44,691.92) scale(1,1.05)" font-size="9.0" stroke="#333" stroke-width="0.22" fill="#333">0.2</text>
<line x1="306.40" y1="657.64" x2="311.50" y2="657.64" stroke="#4a4a4a" stroke-width="1.1"/>
<text transform="translate(293.24,660.54) scale(1,1.05)" font-size="9.0" stroke="#333" stroke-width="0.22" fill="#333">0.4</text>
<line x1="306.40" y1="626.26" x2="311.50" y2="626.26" stroke="#4a4a4a" stroke-width="1.1"/>
<text transform="translate(293.37,629.16) scale(1,1.05)" font-size="9.0" stroke="#333" stroke-width="0.22" fill="#333">0.6</text>
<line x1="306.40" y1="594.88" x2="311.50" y2="594.88" stroke="#4a4a4a" stroke-width="1.1"/>
<text transform="translate(293.37,597.78) scale(1,1.05)" font-size="9.0" stroke="#333" stroke-width="0.22" fill="#333">0.8</text>
<line x1="306.40" y1="563.50" x2="311.50" y2="563.50" stroke="#4a4a4a" stroke-width="1.1"/>
<text transform="translate(293.33,566.40) scale(1,1.05)" font-size="9.0" stroke="#333" stroke-width="0.22" fill="#333">1.0</text>
<line x1="321.70" y1="729.15" x2="321.70" y2="734.15" stroke="#4a4a4a" stroke-width="1.1"/>
<text transform="translate(319.20,742.35) scale(1,1.05)" font-size="9.0" stroke="#333" stroke-width="0.22" fill="#333">0</text>
<line x1="374.00" y1="729.15" x2="374.00" y2="734.15" stroke="#4a4a4a" stroke-width="1.1"/>
<text transform="translate(371.37,742.35) scale(1,1.05)" font-size="9.0" stroke="#333" stroke-width="0.22" fill="#333">1</text>
<line x1="426.30" y1="729.15" x2="426.30" y2="734.15" stroke="#4a4a4a" stroke-width="1.1"/>
<text transform="translate(423.80,742.35) scale(1,1.05)" font-size="9.0" stroke="#333" stroke-width="0.22" fill="#333">2</text>
<line x1="478.60" y1="729.15" x2="478.60" y2="734.15" stroke="#4a4a4a" stroke-width="1.1"/>
<text transform="translate(476.12,742.35) scale(1,1.05)" font-size="9.0" stroke="#333" stroke-width="0.22" fill="#333">3</text>
<path d="M351.9,563.2 H364.2 V565.8 H367 V568.5 H383.5 V571.9 H393.5 V575.5 H418.5 V581.9 H502" fill="none" stroke="#8e8e8e" stroke-width="1.05" stroke-linejoin="miter" stroke-linecap="butt"/>
<line x1="364.20" y1="561.50" x2="364.20" y2="564.90" stroke="#8e8e8e" stroke-width="1.3"/>
<line x1="371.90" y1="566.80" x2="371.90" y2="570.20" stroke="#8e8e8e" stroke-width="1.3"/>
<line x1="376.50" y1="566.80" x2="376.50" y2="570.20" stroke="#8e8e8e" stroke-width="1.3"/>
<line x1="378.00" y1="566.80" x2="378.00" y2="570.20" stroke="#8e8e8e" stroke-width="1.3"/>
<line x1="380.40" y1="566.80" x2="380.40" y2="570.20" stroke="#8e8e8e" stroke-width="1.3"/>
<line x1="382.70" y1="566.80" x2="382.70" y2="570.20" stroke="#8e8e8e" stroke-width="1.3"/>
<line x1="385.00" y1="570.20" x2="385.00" y2="573.60" stroke="#8e8e8e" stroke-width="1.3"/>
<line x1="387.30" y1="570.20" x2="387.30" y2="573.60" stroke="#8e8e8e" stroke-width="1.3"/>
<line x1="389.60" y1="570.20" x2="389.60" y2="573.60" stroke="#8e8e8e" stroke-width="1.3"/>
<line x1="395.80" y1="573.80" x2="395.80" y2="577.20" stroke="#8e8e8e" stroke-width="1.3"/>
<line x1="398.00" y1="573.80" x2="398.00" y2="577.20" stroke="#8e8e8e" stroke-width="1.3"/>
<line x1="400.40" y1="573.80" x2="400.40" y2="577.20" stroke="#8e8e8e" stroke-width="1.3"/>
<line x1="403.50" y1="573.80" x2="403.50" y2="577.20" stroke="#8e8e8e" stroke-width="1.3"/>
<line x1="411.20" y1="573.80" x2="411.20" y2="577.20" stroke="#8e8e8e" stroke-width="1.3"/>
<line x1="413.50" y1="573.80" x2="413.50" y2="577.20" stroke="#8e8e8e" stroke-width="1.3"/>
<line x1="416.50" y1="573.80" x2="416.50" y2="577.20" stroke="#8e8e8e" stroke-width="1.3"/>
<line x1="425.60" y1="580.20" x2="425.60" y2="583.60" stroke="#8e8e8e" stroke-width="1.3"/>
<line x1="436.20" y1="580.20" x2="436.20" y2="583.60" stroke="#8e8e8e" stroke-width="1.3"/>
<line x1="438.00" y1="580.20" x2="438.00" y2="583.60" stroke="#8e8e8e" stroke-width="1.3"/>
<line x1="448.70" y1="580.20" x2="448.70" y2="583.60" stroke="#8e8e8e" stroke-width="1.3"/>
<line x1="455.40" y1="580.20" x2="455.40" y2="583.60" stroke="#8e8e8e" stroke-width="1.3"/>
<line x1="469.80" y1="580.20" x2="469.80" y2="583.60" stroke="#8e8e8e" stroke-width="1.3"/>
<line x1="471.70" y1="580.20" x2="471.70" y2="583.60" stroke="#8e8e8e" stroke-width="1.3"/>
<line x1="480.40" y1="580.20" x2="480.40" y2="583.60" stroke="#8e8e8e" stroke-width="1.3"/>
<line x1="483.30" y1="580.20" x2="483.30" y2="583.60" stroke="#8e8e8e" stroke-width="1.3"/>
<line x1="488.10" y1="580.20" x2="488.10" y2="583.60" stroke="#8e8e8e" stroke-width="1.3"/>
<line x1="491.00" y1="580.20" x2="491.00" y2="583.60" stroke="#8e8e8e" stroke-width="1.3"/>
<line x1="496.70" y1="580.20" x2="496.70" y2="583.60" stroke="#8e8e8e" stroke-width="1.3"/>
<line x1="499.60" y1="580.20" x2="499.60" y2="583.60" stroke="#8e8e8e" stroke-width="1.3"/>
<path d="M352,589.2 V615.8 H355.7 V641.9 H365.9 V668.1 H463.3" fill="none" stroke="#404040" stroke-width="1.25" stroke-linejoin="miter" stroke-linecap="butt"/>
<line x1="435.30" y1="666.40" x2="435.30" y2="669.80" stroke="#404040" stroke-width="1.3"/>
<line x1="463.30" y1="666.40" x2="463.30" y2="669.80" stroke="#404040" stroke-width="1.3"/>
<text transform="translate(424.20,600.60) scale(1,1.05)" font-size="9.0" stroke="#111" stroke-width="0.22" fill="#111">Satisfactory remission</text>
<text transform="translate(424.15,610.90) scale(1,1.05)" font-size="9.0" stroke="#111" stroke-width="0.22" fill="#111">60 Patients, prog=5</text>
<text transform="translate(424.15,621.30) scale(1,1.05)" font-size="9.0" stroke="#111" stroke-width="0.22" fill="#111">2-year PFS 88%</text>
<text transform="translate(417.02,683.80) scale(1,1.05)" font-size="9.0" stroke="#111" stroke-width="0.22" fill="#111">Unsatisfactory remission</text>
<text transform="translate(417.25,694.10) scale(1,1.05)" font-size="9.0" stroke="#111" stroke-width="0.22" fill="#111">6 Patients, prog=4</text>
<text transform="translate(417.25,704.60) scale(1,1.05)" font-size="9.0" stroke="#111" stroke-width="0.22" fill="#111">2-year PFS 33%</text>
<text transform="translate(346.91,547.70) scale(1,1.05)" font-size="13.75" stroke="#111" stroke-width="0.22" fill="#111">CT after end of chemo</text>
<text transform="translate(324.54,714.40) scale(1,1.05)" font-size="12" stroke="#111" stroke-width="0.22" font-style="italic" fill="#111">P</text>
<text transform="translate(334.72,714.40) scale(1,1.05)" font-size="12" stroke="#111" stroke-width="0.22" fill="#111">&lt;</text>
<text transform="translate(344.02,714.40) scale(1,1.05)" font-size="12" stroke="#111" stroke-width="0.22" fill="#111">.001</text>
<text transform="translate(360.13,754.20) scale(1,1.05)" font-size="10.6" font-weight="bold" fill="#111">Years from diagnosis</text>
<text transform="translate(281.90,733.60) rotate(-90) scale(1,1.05)" x="0" y="0" font-size="10.6" font-weight="bold" fill="#111">Progression-free survival probability</text>
<text transform="translate(274.31,541.25) scale(0.945,1.0)" font-size="28.7" font-weight="bold" fill="#000">F</text>
</svg></body></html>
